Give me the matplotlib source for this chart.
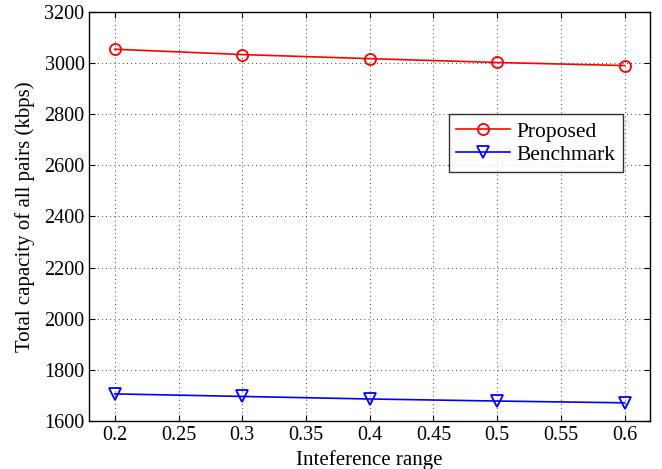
import matplotlib
matplotlib.use("Agg")
import matplotlib.pyplot as plt

plt.rcParams['font.family'] = ['Liberation Serif', 'DejaVu Serif']
plt.rcParams['mathtext.fontset'] = 'stix'

interference = [0.2, 0.3, 0.4, 0.5, 0.6]
proposed = [3055, 3034, 3018, 3003, 2991]
benchmark = [1705, 1695, 1685, 1677, 1670]

fig = plt.figure(figsize=(6.62, 4.69), dpi=100)
ax = fig.add_axes([0.135, 0.103, 0.847, 0.871])

ax.plot(interference, proposed, color='red', lw=1.2, marker='o', ms=8,
        mfc='none', mec='red', mew=1.3, label='Proposed')
ax.plot(interference, benchmark, color='blue', lw=1.2, marker='v', ms=8,
        mfc='none', mec='blue', mew=1.3, label='Benchmark')

ax.set_xlim(0.18, 0.62)
ax.set_ylim(1600, 3200)
ax.set_xticks([0.2, 0.25, 0.3, 0.35, 0.4, 0.45, 0.5, 0.55, 0.6])
ax.set_xticklabels(['0.2', '0.25', '0.3', '0.35', '0.4', '0.45', '0.5', '0.55', '0.6'])
ax.set_yticks(range(1600, 3201, 200))
ax.grid(True, color='black', linestyle=(0, (1, 4)), linewidth=0.6)
ax.tick_params(direction='in', labelsize=14.5, length=4, top=True, right=True)
for s in ax.spines.values():
    s.set_linewidth(1.0)

ax.set_xlabel('Inteference range', fontsize=15, labelpad=4)
ax.set_ylabel('Total capacity of all pairs (kbps)', fontsize=15, labelpad=7)

leg = ax.legend(loc='upper right', bbox_to_anchor=(0.952, 0.751), fontsize=15.5,
                frameon=True, fancybox=False, edgecolor='black',
                handlelength=2.5, borderpad=0.35, labelspacing=0.15,
                handletextpad=0.3, borderaxespad=0)
leg.get_frame().set_linewidth(1.0)
leg._legend_box.align = 'left'
leg.set_bbox_to_anchor((0.952, 0.751), transform=ax.transAxes)

fig.savefig('out.png', dpi=100)
